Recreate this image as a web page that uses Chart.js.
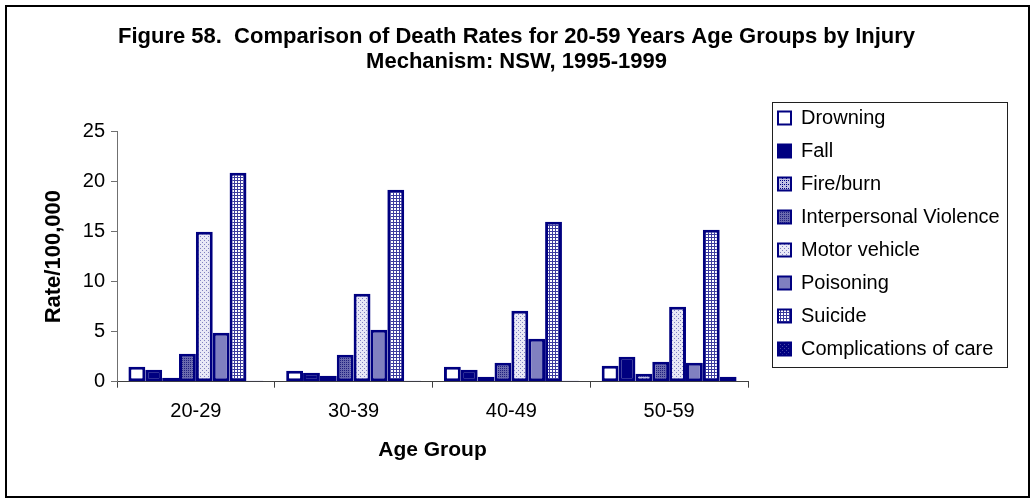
<!DOCTYPE html>
<html>
<head>
<meta charset="utf-8">
<script src="https://cdn.jsdelivr.net/npm/chart.js@4/dist/chart.umd.min.js"></script>
<style>
  html, body { margin: 0; padding: 0; background: #fff; }
  #wrap { width: 1033px; height: 499px; position: relative; }
</style>
</head>
<body>
<div id="wrap"><canvas id="chart"></canvas></div>
<script>
// data
const ageGroups = ['20-29', '30-39', '40-49', '50-59'];
const drowning = [1.5, 1.1, 1.5, 1.6];
const fall = [1.2, 0.9, 1.2, 2.5];
const fireBurn = [0.4, 0.6, 0.5, 0.8];
const violence = [2.8, 2.7, 1.9, 2.0];
const motorVehicle = [15.0, 8.8, 7.1, 7.5];
const poisoning = [4.9, 5.2, 4.3, 1.9];
const suicide = [20.9, 19.2, 16.0, 15.2];
const complications = [0.1, 0.1, 0.1, 0.5];
const seriesNames = ['Drowning', 'Fall', 'Fire/burn', 'Interpersonal Violence',
  'Motor vehicle', 'Poisoning', 'Suicide', 'Complications of care'];
const yTicks = [0, 5, 10, 15, 20, 25];

const NAVY = '#000080';
const FONT = 'Arial, "Liberation Sans", sans-serif';
const LEGEND_SIZE = 20;
const LEGEND_PAD = 13;
const BOX = 13;

// small pixel patterns like the old Excel fills
function makePattern(bg, fg, size, pixels) {
  const c = document.createElement('canvas');
  c.width = c.height = size;
  const g = c.getContext('2d');
  g.fillStyle = bg;
  g.fillRect(0, 0, size, size);
  g.fillStyle = fg;
  pixels.forEach(p => g.fillRect(p[0], p[1], 1, 1));
  return g.createPattern(c, 'repeat');
}

const firePat = makePattern('#c0c0e4', NAVY, 4, [[0, 0], [2, 2], [2, 0]]);
const violencePat = makePattern('#6a6aae', '#202080', 2, [[0, 0]]);
const motorPat = makePattern('#e8e8f6', '#8080c0', 4, [[0, 0], [2, 2]]);
const suicidePat = makePattern('#ffffff', '#3c3c9e', 3, [[0, 0], [1, 0], [2, 0], [0, 1], [0, 2]]);
const compPat = makePattern(NAVY, '#4848a4', 4, [[0, 0], [2, 2]]);

// work out how wide the legend will be so the plot ends where the original does
const measure = document.createElement('canvas').getContext('2d');
measure.font = LEGEND_SIZE + 'px ' + FONT;
let longest = 0;
seriesNames.forEach(n => { longest = Math.max(longest, measure.measureText(n).width); });
const legendWidth = LEGEND_PAD + BOX + LEGEND_SIZE / 2 + longest + 10;
const sidePad = Math.max(0, 268 - legendWidth);

function series(i, data, fill) {
  return {
    label: seriesNames[i],
    data: data,
    backgroundColor: fill,
    borderColor: NAVY,
    borderWidth: 3,
    borderSkipped: false,
    categoryPercentage: 0.855,
    barPercentage: 1.0
  };
}

// white background, outer frame and the legend box
const framePlugin = {
  id: 'frame',
  beforeDraw(chart) {
    const ctx = chart.ctx;
    ctx.save();
    ctx.fillStyle = '#fff';
    ctx.fillRect(0, 0, chart.width, chart.height);
    ctx.restore();
  },
  afterDraw(chart) {
    const ctx = chart.ctx;
    ctx.save();
    ctx.strokeStyle = '#000';
    ctx.lineWidth = 2;
    ctx.strokeRect(6, 6, 1023, 491);
    const hb = chart.legend.legendHitBoxes;
    if (hb && hb.length) {
      const left = hb[0].left - 6;
      const top = hb[0].top - 6;
      const last = hb[hb.length - 1];
      const bottom = last.top + last.height + 8;
      let right = 0;
      hb.forEach(b => { right = Math.max(right, b.left + b.width); });
      right += 7;
      ctx.lineWidth = 1;
      ctx.strokeStyle = '#202020';
      ctx.strokeRect(Math.round(left) + 0.5, Math.round(top) + 0.5, Math.round(right - left), Math.round(bottom - top));
    }
    ctx.restore();
  }
};

new Chart(document.getElementById('chart'), {
  type: 'bar',
  data: {
    labels: ageGroups,
    datasets: [
      series(0, drowning, '#ffffff'),
      series(1, fall, NAVY),
      series(2, fireBurn, firePat),
      series(3, violence, violencePat),
      series(4, motorVehicle, motorPat),
      series(5, poisoning, '#8080c0'),
      series(6, suicide, suicidePat),
      series(7, complications, compPat)
    ]
  },
  options: {
    responsive: true,
    maintainAspectRatio: false,
    animation: false,
    layout: { padding: { left: sidePad, right: sidePad, top: 0, bottom: 32 } },
    plugins: {
      title: {
        display: true,
        text: ['Figure 58.  Comparison of Death Rates for 20-59 Years Age Groups by Injury',
               'Mechanism: NSW, 1995-1999'],
        color: '#000',
        font: { family: FONT, size: 22, weight: 'bold', lineHeight: 25 / 22 },
        padding: { top: 24.5, bottom: 57.2 }
      },
      legend: {
        position: 'right',
        maxWidth: legendWidth + 2,
        labels: {
          color: '#000',
          font: { family: FONT, size: LEGEND_SIZE },
          boxWidth: BOX,
          boxHeight: BOX,
          padding: LEGEND_PAD,
          generateLabels(chart) {
            const items = Chart.defaults.plugins.legend.labels.generateLabels(chart);
            items.forEach(it => { it.lineWidth = 2; });
            return items;
          }
        }
      },
      tooltip: { enabled: false }
    },
    scales: {
      x: {
        grid: { display: true, drawOnChartArea: false, drawTicks: true, tickLength: 6, color: '#404040', offset: true },
        border: { display: true, color: '#404040', width: 1 },
        ticks: { color: '#000', font: { family: FONT, size: 20 }, padding: 12, maxRotation: 0 },
        title: {
          display: true,
          text: 'Age Group',
          color: '#000',
          font: { family: FONT, size: 21, weight: 'bold' },
          padding: { top: 0, bottom: 4.4 }
        },
        afterFit(scale) { scale.height = 85.3; }
      },
      y: {
        min: 0,
        max: 25,
        afterBuildTicks(scale) { scale.ticks = yTicks.map(v => ({ value: v })); },
        grid: { display: true, drawOnChartArea: false, drawTicks: true, tickLength: 6, color: '#707070' },
        border: { display: true, color: '#707070', width: 1 },
        ticks: { color: '#000', font: { family: FONT, size: 20 }, padding: 6 },
        title: {
          display: true,
          text: 'Rate/100,000',
          color: '#000',
          font: { family: FONT, size: 22, weight: 'bold' },
          padding: { top: Math.max(0, 53.7 - sidePad - 13.2), bottom: 0 }
        },
        afterFit(scale) { scale.width = 117 - sidePad; }
      },
      gap: {
        type: 'linear',
        position: 'right',
        display: true,
        grid: { display: false },
        border: { display: false },
        ticks: { display: false },
        afterFit(scale) { scale.width = 17; }
      }
    }
  },
  plugins: [framePlugin]
});
</script>
</body>
</html>
